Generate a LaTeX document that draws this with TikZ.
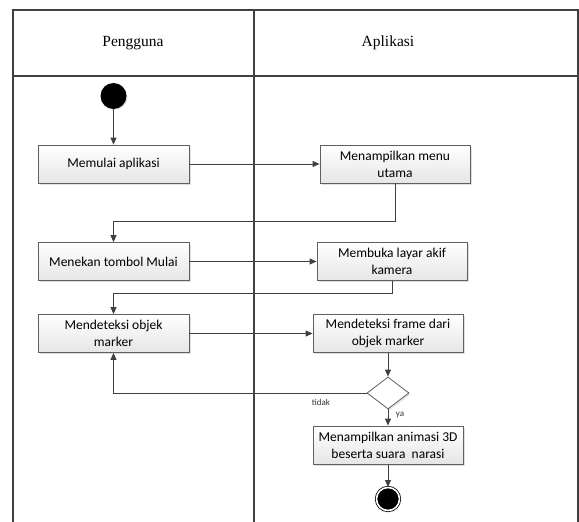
\documentclass[tikz,border=0pt]{standalone}
\usepackage{fontspec}
\setmainfont{Liberation Serif}
\newfontfamily\boxfont{Carlito}
\usetikzlibrary{shapes.geometric, arrows.meta, shadows}

\definecolor{linegray}{HTML}{404040}
\definecolor{boxedge}{HTML}{606060}

\tikzset{
  lane/.style={draw=linegray, line width=1.2pt},
  action/.style={rectangle, draw=boxedge, line width=0.8pt, top color=white, bottom color=black!10,
    minimum width=151pt, minimum height=38pt, inner sep=2pt, align=center,
    font=\boxfont\fontsize{13.5}{17}\selectfont,
    drop shadow={shadow xshift=1.5pt, shadow yshift=-1.5pt, fill=black!25}},
  decision/.style={diamond, draw=boxedge, line width=0.8pt, fill=white, aspect=1.3,
    minimum width=42pt, minimum height=32pt, inner sep=0pt,
    drop shadow={shadow xshift=1.5pt, shadow yshift=-1.5pt, fill=black!20}},
  startstate/.style={circle, fill=black, minimum size=26pt, inner sep=0pt,
    drop shadow={shadow xshift=1pt, shadow yshift=-1pt, fill=black!25}},
  endstate/.style={circle, draw=black, fill=black, double=white, double distance=1.6pt,
    line width=0.8pt, minimum size=23pt, inner sep=0pt},
  flow/.style={draw=linegray, line width=0.9pt, -{Triangle[length=7pt,width=6pt]}},
  guard/.style={font=\boxfont\fontsize{9}{10}\selectfont, text=black!80}
}

\begin{document}
\begin{tikzpicture}[x=1pt,y=-1pt]
\useasboundingbox (0,0) rectangle (579,522);
\draw[lane] (13,522) -- (13,10) -- (578,10) -- (578,522);
\draw[lane] (13,76) -- (578,76);
\draw[lane] (254,10) -- (254,522);
\node[font=\fontsize{15.5}{18}\selectfont] (hdruser) at (133,43) {Pengguna};
\node[font=\fontsize{15.5}{18}\selectfont] (hdrapp) at (388,43) {Aplikasi};

\node[startstate] (start) at (113.5,96) {};
\node[action] (mulai) at (113.5,164) {Memulai aplikasi};
\node[action, minimum width=150pt] (menu) at (395,164) {Menampilkan menu\\utama};
\node[action] (tombol) at (113.5,261.5) {Menekan tombol Mulai};
\node[action, minimum width=150pt] (kamera) at (392,261.5) {Membuka layar akif\\kamera};
\node[action] (deteksi) at (113.5,333.5) {Mendeteksi objek\\marker};
\node[action, minimum width=150pt] (frame) at (388,333.5) {Mendeteksi frame dari\\objek marker};
\node[decision] (cek) at (388,393) {};
\node[action, minimum width=150pt] (animasi) at (388,445) {Menampilkan animasi 3D\\beserta suara\ \ narasi};
\node[endstate] (stop) at (388,499) {};

\draw[flow] (start) -- (mulai);
\draw[flow] (mulai) -- (menu);
\draw[flow] (menu.south) -- ++(0,38) -| (tombol.north);
\draw[flow] (tombol) -- (kamera);
\draw[flow] (kamera.south) -- ++(0,13) -| (deteksi.north);
\draw[flow] (deteksi) -- (frame);
\draw[flow] (frame) -- (cek);
\draw[flow] (cek.west) -| (deteksi.south);
\draw[flow] (cek.south) -- (animasi.north);
\draw[flow] (animasi) -- (stop);
\node[guard] (tidak) at (321,402) {tidak};
\node[guard] (ya) at (400,415) {ya};
\end{tikzpicture}
\end{document}
